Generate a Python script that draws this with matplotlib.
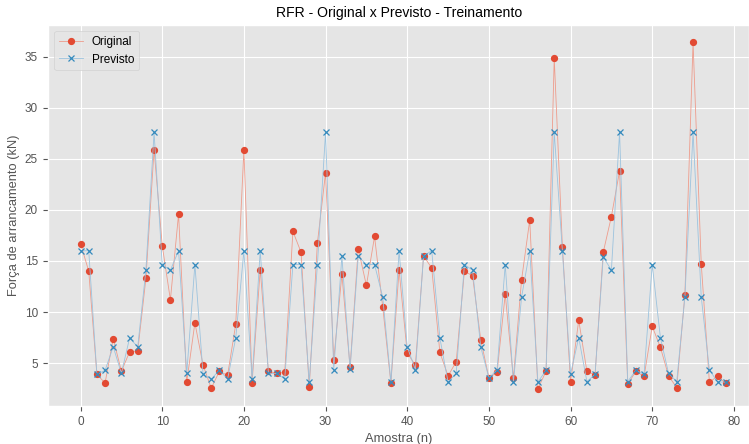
"""
RFR - Original x Previsto (treinamento): comparação ponto a ponto.
"""

import matplotlib.pyplot as plt
import numpy as np

# ──────────────────────────────────────────────────────────────────────
#  Dados
# ──────────────────────────────────────────────────────────────────────

original = [
    16.7, 14.0, 3.9, 3.05, 7.4, 4.2, 6.1, 6.2, 13.3, 25.9,
    16.5, 11.2, 19.6, 3.15, 8.95, 4.8, 2.55, 4.2, 3.8, 8.8,
    25.9, 3.05, 14.15, 4.2, 4.0, 4.1, 17.9, 15.85, 2.65, 16.75,
    23.65, 5.3, 13.7, 4.6, 16.2, 12.6, 17.4, 10.5, 3.05, 14.1,
    6.0, 4.8, 15.5, 14.3, 6.05, 3.75, 5.15, 14.0, 13.55, 7.3,
    3.55, 4.1, 11.75, 3.5, 13.15, 19.0, 2.5, 4.2, 34.85, 16.4,
    3.15, 9.2, 4.2, 3.85, 15.85, 19.35, 23.8, 2.95, 4.2, 3.7,
    8.6, 6.55, 3.75, 2.6, 11.7, 36.4, 14.75, 3.15, 3.7, 3.05,
]

previsto = [
    16.0, 16.0, 3.9, 4.3, 6.6, 4.0, 7.45, 6.6, 14.1, 27.6,
    14.65, 14.1, 16.0, 4.0, 14.65, 3.9, 3.45, 4.3, 3.45, 7.45,
    16.0, 3.45, 16.0, 4.0, 4.0, 3.45, 14.65, 14.65, 3.15, 14.65,
    27.6, 4.35, 15.45, 4.4, 15.45, 14.65, 14.65, 11.45, 3.15, 16.0,
    6.6, 4.35, 15.5, 16.0, 7.45, 3.15, 4.0, 14.65, 14.1, 6.6,
    3.55, 4.35, 14.65, 3.15, 11.45, 16.0, 3.15, 4.3, 27.6, 16.0,
    3.95, 7.5, 3.2, 3.9, 15.4, 14.1, 27.6, 3.2, 4.3, 3.9,
    14.65, 7.5, 4.0, 3.2, 11.5, 27.6, 11.5, 4.35, 3.15, 3.15,
]

amostras = np.arange(len(original))

# ──────────────────────────────────────────────────────────────────────
#  Figura
# ──────────────────────────────────────────────────────────────────────

plt.style.use("ggplot")
plt.rcParams["font.family"] = ["Liberation Sans", "DejaVu Sans"]

fig = plt.figure(figsize=(7.49, 4.44), dpi=100)
ax = fig.add_axes([0.0645, 0.0856, 0.9355, 0.858])

# linha clara, marcador na cor cheia
ax.plot(amostras, original, "o-", color="#EE9C8C", lw=0.6, ms=4.2,
        mfc="#E24A33", mec="#E24A33", label="Original")
ax.plot(amostras, previsto, "x-", color="#9CC3DE", lw=0.6, ms=4.2, mew=0.9,
        mfc="#348ABD", mec="#348ABD", label="Previsto")

ax.set_xlim(-3.95, 81.85)
ax.set_xticks(range(0, 81, 10))
ax.set_yticks(range(5, 36, 5))

ax.set_title("RFR - Original x Previsto - Treinamento", fontsize=10.1, pad=6)
ax.set_xlabel("Amostra (n)", fontsize=9.3, labelpad=3)
ax.set_ylabel("Força de arrancamento (kN)", fontsize=9.3, labelpad=3)
ax.tick_params(labelsize=8.5, pad=4)
ax.legend(loc="upper left", fontsize=8.5)

fig.savefig("out.png", dpi=100)
